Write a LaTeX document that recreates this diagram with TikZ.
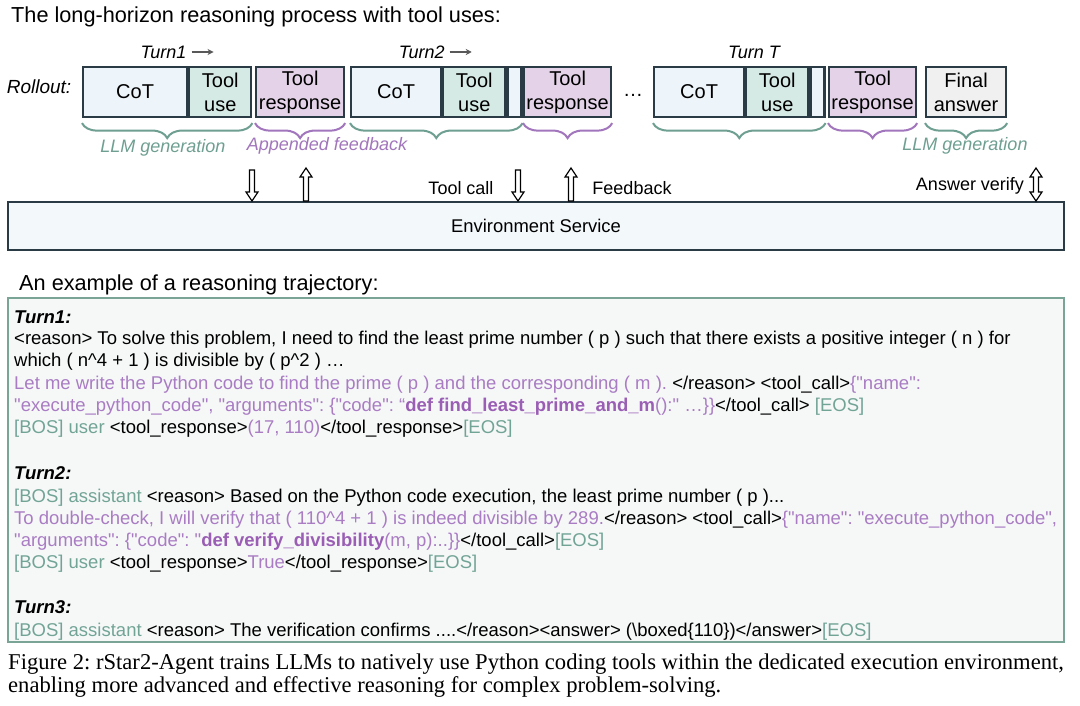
\documentclass[tikz,border=0pt]{standalone}
\usepackage{fontspec}
\setmainfont{Liberation Sans}
\newfontfamily\capfont{Liberation Serif}
\usetikzlibrary{decorations.pathreplacing,arrows.meta}
\font\qf="Liberation Sans" at 18.5pt
\newcommand\dq{{\qf"}}
\definecolor{bord}{HTML}{2B3B45}
\definecolor{cotf}{HTML}{EEF5FA}
\definecolor{toolf}{HTML}{D5EAE5}
\definecolor{respf}{HTML}{E4D3E8}
\definecolor{finf}{HTML}{F0F0F0}
\definecolor{envf}{HTML}{F3F8FB}
\definecolor{trajf}{HTML}{F6F8F8}
\definecolor{trajb}{HTML}{7AA596}
\definecolor{tealt}{HTML}{72A496}
\definecolor{purt}{HTML}{A97CC3}
\definecolor{purb}{HTML}{9A5EB4}
\definecolor{tealb}{HTML}{6E9F91}
\definecolor{purbr}{HTML}{A276BC}
\frenchspacing
\begin{document}
\begin{tikzpicture}[x=1pt,y=-1pt,
  seg/.style={draw=bord, line width=2.2pt, minimum height=50pt, inner sep=0pt, anchor=west,
    font=\fontsize{20}{24}\selectfont, align=center},
  cotbox/.style={seg, fill=cotf},
  toolbox/.style={seg, fill=toolf},
  respbox/.style={seg, fill=respf},
  finbox/.style={seg, fill=finf},
  brc/.style={decorate, decoration={brace, amplitude=15pt, aspect=0.5}, line width=2pt},
  lbl/.style={inner sep=0pt, font=\fontsize{18}{22}\selectfont},
  ilbl/.style={inner sep=0pt, font=\fontsize{18}{22}\selectfont\itshape},
  turnarr/.style={draw=black!65, line width=1.4pt, -{Stealth[length=6pt,width=6pt]}},
  harr/.style={draw=black, fill=white, line width=1.2pt, line join=miter},
  ln/.style={anchor=base west, inner sep=0pt, font=\fontsize{18.5}{22}\selectfont\frenchspacing},
  captext/.style={anchor=base west, inner sep=0pt, font=\capfont\fontsize{22.6}{25}\selectfont}
]
\useasboundingbox (0,0) rectangle (1080,706);
\fill[white] (0,0) rectangle (1080,706);

% titles
\node[anchor=base west, inner sep=0pt, font=\fontsize{21.7}{26}\selectfont] (title1) at (11,23) {The long-horizon reasoning process with tool uses:};
\node[anchor=base west, inner sep=0pt, font=\fontsize{21.7}{26}\selectfont] (title2) at (19,290) {An example of a reasoning trajectory:};

% turn labels
\node[ilbl] (t1) at (163.5,52) {Turn1};
\draw[turnarr] ([xshift=5pt]t1.east) -- ++(22,0);
\node[ilbl] (t2) at (421.7,52) {Turn2};
\draw[turnarr] ([xshift=5pt]t2.east) -- ++(22,0);
\node[ilbl] (tT) at (754,52) {Turn T};
\node[inner sep=0pt, font=\fontsize{19}{22}\selectfont\itshape] (roll) at (39,87) {Rollout:};

% rollout boxes
\node[cotbox, minimum width=104pt] (cot1) at (82,92) {CoT};
\node[toolbox, minimum width=62pt] (tool1) at (cot1.east) {Tool\\use};
\node[respbox, minimum width=88pt] (resp1) at (255,92) {Tool\\response};
\node[cotbox, minimum width=90pt] (cot2) at (350,92) {CoT};
\node[toolbox, minimum width=62pt] (tool2) at (cot2.east) {Tool\\use};
\node[cotbox, minimum width=14pt] (strip2) at (tool2.east) {};
\node[respbox, minimum width=87pt] (resp2) at (523,92) {Tool\\response};
\node[anchor=base, inner sep=0pt, font=\fontsize{20}{24}\selectfont] (dots) at (633,97) {…};
\node[cotbox, minimum width=90pt] (cotT) at (653,92) {CoT};
\node[toolbox, minimum width=62pt] (toolT) at (cotT.east) {Tool\\use};
\node[cotbox, minimum width=14pt] (stripT) at (toolT.east) {};
\node[respbox, minimum width=87pt] (resp3) at (828,92) {Tool\\response};
\node[finbox, minimum width=80pt] (fin) at (925,92) {Final\\answer};

% braces
\draw[brc, tealb] ([yshift=-5pt]tool1.south east) -- ([yshift=-5pt]cot1.south west);
\draw[brc, purbr] ([yshift=-5pt]resp1.south east) -- ([yshift=-5pt]resp1.south west);
\draw[brc, tealb] ([yshift=-5pt]strip2.south east) -- ([yshift=-5pt]cot2.south west);
\draw[brc, purbr] ([yshift=-5pt]resp2.south east) -- ([yshift=-5pt]resp2.south west);
\draw[brc, tealb] ([yshift=-5pt]stripT.south east) -- ([yshift=-5pt]cotT.south west);
\draw[brc, purbr] ([yshift=-5pt]resp3.south east) -- ([yshift=-5pt]resp3.south west);
\draw[brc, tealb] ([yshift=-5pt]fin.south east) -- ([yshift=-5pt]fin.south west);

\node[ilbl, text=tealb] (g1) at (163,148) {LLM generation};
\node[ilbl, text=purbr] (af) at (327,146) {Appended feedback};
\node[ilbl, text=tealb] (g2) at (965,146) {LLM generation};

% environment
\node[draw=bord, fill=envf, line width=2pt, minimum width=1056pt, minimum height=48pt, inner sep=0pt,
  font=\fontsize{18.4}{22}\selectfont] (env) at (536,226) {Environment Service};

\coordinate (d1) at (252,0 |- env.north);
\coordinate (u1) at (306,0 |- env.north);
\coordinate (d2) at (518,0 |- env.north);
\coordinate (u2) at (571,0 |- env.north);
\coordinate (v1) at (1036,0 |- env.north);

\draw[harr] (d1) ++(-2.5,-31) -- ++(0,22) -- ++(-3.5,0) -- ++(6,9) -- ++(6,-9) -- ++(-3.5,0) -- ++(0,-22) -- cycle;
\draw[harr] (d2) ++(-2.5,-31) -- ++(0,22) -- ++(-3.5,0) -- ++(6,9) -- ++(6,-9) -- ++(-3.5,0) -- ++(0,-22) -- cycle;
\draw[harr] (u1) ++(-2.5,0) -- ++(0,-24) -- ++(-3.5,0) -- ++(6,-9) -- ++(6,9) -- ++(-3.5,0) -- ++(0,24) -- cycle;
\draw[harr] (u2) ++(-2.5,0) -- ++(0,-24) -- ++(-3.5,0) -- ++(6,-9) -- ++(6,9) -- ++(-3.5,0) -- ++(0,24) -- cycle;
\draw[harr] (v1) ++(0,-33) -- ++(6,9) -- ++(-3.5,0) -- ++(0,15) -- ++(3.5,0) -- ++(-6,9) -- ++(-6,-9) -- ++(3.5,0) -- ++(0,-15) -- ++(-3.5,0) -- cycle;

\node[lbl] (tc) at (461,188) {Tool call};
\node[lbl] (fb) at (632,188) {Feedback};
\node[lbl] (av) at (970,186) {Answer verify};

% trajectory box
\node[draw=trajb, fill=trajf, line width=2pt, minimum width=1056pt, minimum height=344pt, inner sep=0pt] (traj) at (536,470) {};

\node[ln] (a0) at (14,323) {\bfseries\itshape Turn1:};
\node[ln] (a1) at (14,344) {<reason> To solve this problem, I need to find the least prime number ( p ) such that there exists a positive integer ( n ) for};
\node[ln] (a2) at (14,366) {which ( n\textasciicircum 4 + 1 ) is divisible by ( p\textasciicircum 2 ) …};
\node[ln] (a3) at (14,389) {{\color{purt}Let me write the Python code to find the prime ( p ) and the corresponding ( m ).} </reason> <tool\_call>{\color{purt}\{\dq name\dq:}};
\node[ln] (a4) at (14,411) {{\color{purt}\dq execute\_python\_code\dq, \dq arguments\dq: \{\dq code\dq: “{\color{purb}\bfseries def find\_least\_prime\_and\_m}():\dq{} …\}\}}</tool\_call> {\color{tealt}[EOS]}};
\node[ln] (a5) at (14,433) {{\color{tealt}[BOS] user} <tool\_response>{\color{purt}(17, 110)}</tool\_response>{\color{tealt}[EOS]}};

\node[ln] (b0) at (14,479) {\bfseries\itshape Turn2:};
\node[ln] (b1) at (14,502) {{\color{tealt}[BOS] assistant} <reason> Based on the Python code execution, the least prime number ( p )...};
\node[ln] (b2) at (14,524) {{\color{purt}To double-check, I will verify that ( 110\textasciicircum 4 + 1 ) is indeed divisible by 289.}</reason> <tool\_call>{\color{purt}\{\dq name\dq: \dq execute\_python\_code\dq,}};
\node[ln] (b3) at (14,546) {{\color{purt}\dq arguments\dq: \{\dq code\dq: \dq{\color{purb}\bfseries def verify\_divisibility}(m, p):..\}\}}</tool\_call>{\color{tealt}[EOS]}};
\node[ln] (b4) at (14,568) {{\color{tealt}[BOS] user} <tool\_response>{\color{purt}True}</tool\_response>{\color{tealt}[EOS]}};

\node[ln] (c0) at (14,613) {\bfseries\itshape Turn3:};
\node[ln] (c1) at (14,636) {{\color{tealt}[BOS] assistant} <reason> The verification confirms ....</reason><answer> (\textbackslash boxed\{110\})</answer>{\color{tealt}[EOS]}};

% caption
\node[captext] (cap1) at (8,669) {Figure 2: rStar2-Agent trains LLMs to natively use Python coding tools within the dedicated execution environment,};
\node[captext] (cap2) at (8,692) {enabling more advanced and effective reasoning for complex problem-solving.};
\end{tikzpicture}
\end{document}
